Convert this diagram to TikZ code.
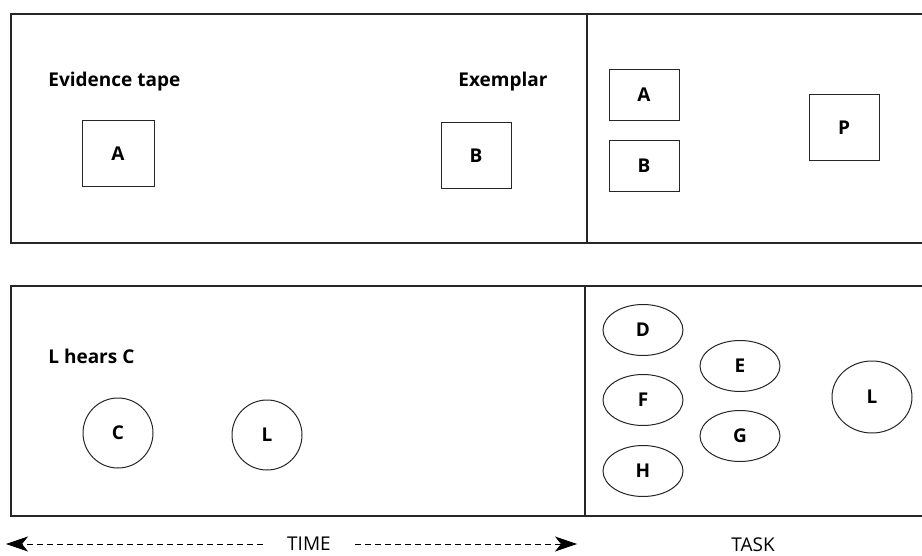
\documentclass[tikz,border=0pt]{standalone}
\usepackage{fontspec}
\setmainfont{Open Sans}
\usetikzlibrary{arrows.meta,shapes.geometric}

\begin{document}
\begin{tikzpicture}[x=0.5pt,y=-0.5pt,
    every node/.style={font=\fontsize{9.5}{11}\selectfont},
    panel/.style={draw=black!85, line width=0.6pt},
    card/.style={draw=black!85, line width=0.5pt, minimum width=36pt, minimum height=33pt, inner sep=0pt, font=\fontsize{9.5}{11}\selectfont\bfseries},
    flatcard/.style={card, minimum width=35pt, minimum height=25.5pt},
    oval/.style={draw=black!85, line width=0.5pt, ellipse, minimum width=40pt, minimum height=25.5pt, inner sep=0pt, font=\fontsize{9.5}{11}\selectfont\bfseries},
    ring/.style={oval, minimum width=35pt, minimum height=35pt},
    caption/.style={anchor=west, inner sep=0pt, font=\fontsize{9.5}{11}\selectfont\bfseries},
    timeline/.style={dash pattern=on 2.8pt off 2.2pt, -{Stealth[length=11pt,width=7.5pt,inset=3pt]}}]

    \useasboundingbox (0,0) rectangle (922,556);

    % Paineis
    \draw[panel] (922,14) -- (11,14) -- (11,243) -- (922,243); % painel de cima
    \draw[panel] (587,14) -- (587,243);
    \draw[panel] (922,286) -- (11,286) -- (11,516) -- (922,516); % painel de baixo
    \draw[panel] (585,286) -- (585,516);

    % Painel de cima, esquerda
    \node[caption] (evid) at (48,82) {Evidence tape};
    \node[caption] (exem) at (458,82) {Exemplar};
    \node[card] (a1) at (118,154) {A};
    \node[card, minimum width=35pt] (b1) at (476,156) {B};

    % Painel de cima, direita
    \node[flatcard] (a2) at (644,95) {A};
    \node[flatcard] (b2) at (644,166) {B};
    \node[card, minimum width=35pt] (p) at (844,128) {P};

    % Painel de baixo, esquerda
    \node[caption] (hears) at (48,356) {L hears C};
    \node[ring] (c) at (118,433) {C};
    \node[ring] (l1) at (267,435) {L};

    % Painel de baixo, direita
    \node[oval] (d) at (643,330) {D};
    \node[oval] (e) at (740,366) {E};
    \node[oval] (f) at (643,400) {F};
    \node[oval] (g) at (740,436) {G};
    \node[oval] (h) at (643,471) {H};
    \node[oval, minimum height=36pt] (l2) at (872,397) {L};

    % Eixos
    \node[inner xsep=12pt] (time) at (309,544) {TIME};
    \node (task) at (753,545) {TASK};
    \coordinate (tl) at (6,544);
    \coordinate (tr) at (577,544);
    \draw[timeline] (time.west |- tl) -- (tl);
    \draw[timeline] (time.east |- tr) -- (tr);

\end{tikzpicture}
\end{document}
